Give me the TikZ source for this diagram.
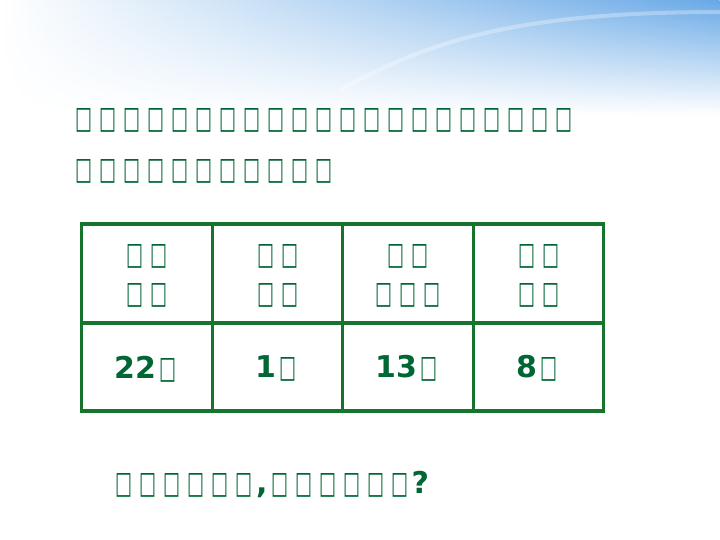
\documentclass[tikz,border=0pt]{standalone}
\usepackage{fontspec}
\usepackage{graphicx}
\setmainfont{DejaVu Sans}
\usetikzlibrary{fadings}
\definecolor{textgreen}{RGB}{0,102,51}
\definecolor{rulegreen}{RGB}{22,116,44}
\definecolor{skyblue}{RGB}{104,168,230}
\newcommand\tofu{\makebox[24pt]{\raisebox{0pt}[20pt][0pt]{\resizebox{17pt}{20pt}{□}}}}
\newcommand\tofus[1]{\foreach \i in {1,...,#1}{\tofu}}
\tikzfading[name=skyfade, top color=transparent!0, bottom color=transparent!100]
\begin{document}
\begin{tikzpicture}[
  x=1pt, y=-1pt,
  inner sep=0pt,
  every node/.style={text=textgreen},
  line/.style={
    anchor=base west
  },
  cell/.style={
    draw=rulegreen,
    line width=3.2pt,
    minimum width=130.5pt,
    align=center,
    font=\fontsize{22}{39}\selectfont
  },
  head/.style={
    cell,
    minimum height=99pt
  },
  num/.style={
    cell,
    minimum height=88pt
  }
  ]

  \useasboundingbox (0,0) rectangle (720,540);
  \shade [left color=white, middle color=skyblue!45, right color=skyblue, path fading=skyfade] (0,0) rectangle (720,115);
  \draw [white, line width=4pt, opacity=0.3] (340,90) .. controls (430,40) and (520,12) .. (720,12);

  \node (line1) [line] at (71.5,128.5) {\tofus{21}};
  \node (line2) [line] at (71.5,180) {\tofus{11}};

  \node (h1) [head] at (147,273.5) {\tofus{2}\\\tofus{2}};
  \node (h2) [head] at (277.5,273.5) {\tofus{2}\\\tofus{2}};
  \node (h3) [head] at (408,273.5) {\tofus{2}\\\tofus{3}};
  \node (h4) [head] at (538.5,273.5) {\tofus{2}\\\tofus{2}};

  \node (n1) [num] at (147,367) {{\bfseries\fontsize{30}{30}\selectfont 22}\tofu};
  \node (n2) [num] at (277.5,367) {{\bfseries\fontsize{30}{30}\selectfont 1}\tofu};
  \node (n3) [num] at (408,367) {{\bfseries\fontsize{30}{30}\selectfont 13}\tofu};
  \node (n4) [num] at (538.5,367) {{\bfseries\fontsize{30}{30}\selectfont 8}\tofu};

  \node (question) [line] at (112,493) {\tofus{6}{\bfseries\fontsize{30}{30}\selectfont ,}\tofus{6}{\bfseries\fontsize{30}{30}\selectfont ?}};
\end{tikzpicture}
\end{document}
